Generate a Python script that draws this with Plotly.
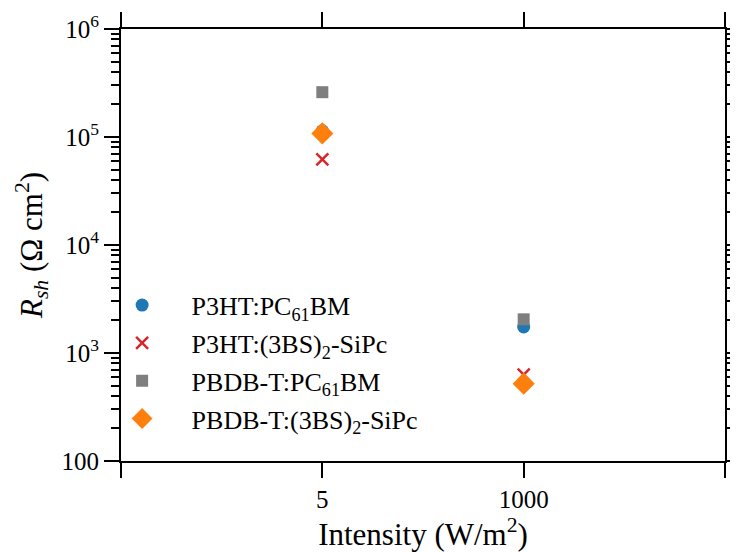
import plotly.graph_objects as go

intensities = ["5", "1000"]
series_names = ["P3HT:PC<sub>61</sub>BM", "P3HT:(3BS)<sub>2</sub>-SiPc",
                "PBDB-T:PC<sub>61</sub>BM", "PBDB-T:(3BS)<sub>2</sub>-SiPc"]
rsh_p3ht_pcbm = [1.14e5, 1.74e3]
rsh_p3ht_sipc = [6.2e4, 6.3e2]
rsh_pbdb_pcbm = [2.6e5, 2.05e3]
rsh_pbdb_sipc = [1.08e5, 5.2e2]
y_tickvals = [1e2, 1e3, 1e4, 1e5, 1e6]
y_ticktext = ["100", "10<sup>3</sup>", "10<sup>4</sup>", "10<sup>5</sup>", "10<sup>6</sup>"]

minor_vals = [m * 10 ** d for d in range(2, 6) for m in range(2, 10)]

xpos = [i + 1 for i in range(len(intensities))]
styles = [
    dict(symbol="circle", color="#1f77b4", size=13),
    dict(symbol="x-thin", color="#d62728", size=12, line=dict(width=2.5, color="#d62728")),
    dict(symbol="square", color="#7f7f7f", size=12),
    dict(symbol="diamond", color="#ff7f0e", size=17),
]
data = [rsh_p3ht_pcbm, rsh_p3ht_sipc, rsh_pbdb_pcbm, rsh_pbdb_sipc]
FONT = "Liberation Serif"

fig = go.Figure()
for i, (name, vals, st) in enumerate(zip(series_names, data, styles)):
    fig.add_trace(go.Scatter(x=xpos, y=vals, mode="markers", name=name, marker=st,
                             legendgroup=f"g{i}"))

fig.update_layout(
    width=730, height=544,
    margin=dict(l=113, r=13, t=21, b=91),
    paper_bgcolor="white", plot_bgcolor="white",
    font=dict(family=FONT, size=25, color="black"),
    showlegend=True,
    legend=dict(x=-0.047, y=0.415, xanchor="left", yanchor="top",
                bgcolor="rgba(0,0,0,0)", font=dict(family=FONT, size=26), tracegroupgap=1,
                itemsizing="trace", itemwidth=89),
    xaxis=dict(range=[0, 3], tickvals=[0, 1, 2, 3], ticktext=["", intensities[0], intensities[1], ""],
               showgrid=False, zeroline=False, showline=True, linecolor="black", linewidth=2,
               mirror="ticks", ticks="outside", ticklen=15, tickwidth=2, tickcolor="black",
               tickfont=dict(family=FONT, size=25), automargin=False,
               title=dict(text="Intensity (W/m<sup>2</sup>)", font=dict(family=FONT, size=31), standoff=10)),
    yaxis=dict(type="log", range=[2, 6], tickvals=y_tickvals, ticktext=y_ticktext,
               showgrid=False, zeroline=False, showline=True, linecolor="black", linewidth=2,
               mirror="ticks", ticks="outside", ticklen=15, tickwidth=2, tickcolor="black",
               tickfont=dict(family=FONT, size=25), automargin=False,
               minor=dict(tickvals=minor_vals, ticks="outside", ticklen=8, tickwidth=1.5,
                          tickcolor="black", showgrid=False),
               title=dict(text="<i>R<sub>sh</sub></i> (Ω cm<sup>2</sup>)", font=dict(family=FONT, size=31), standoff=10)),
)
fig.write_html("out.html")
